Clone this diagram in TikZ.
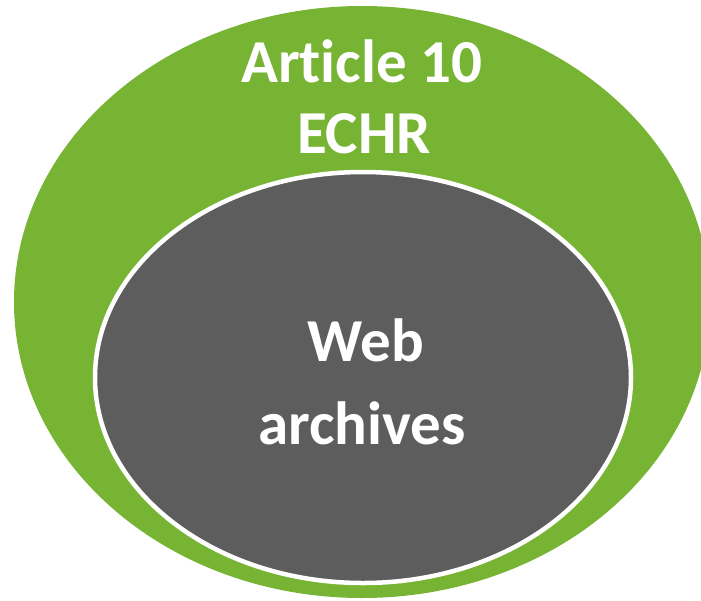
\documentclass[tikz,border=0pt]{standalone}
\usepackage{fontspec}
\setmainfont[Ligatures=NoCommon]{Carlito}
\usetikzlibrary{shapes.geometric}
\definecolor{leafgreen}{HTML}{78B434}
\definecolor{slategray}{HTML}{5D5D5D}
\tikzset{
  blob/.style={ellipse, inner sep=0pt, outer sep=0pt},
  label/.style={text=white, font=\fontsize{61}{72}\selectfont\bfseries, inner sep=0pt, anchor=base}
}
\begin{document}
\begin{tikzpicture}[x=1pt,y=-1pt]
  \useasboundingbox (0,0) rectangle (701,600);
  % outer set
  \node[blob, fill=leafgreen, minimum width=696pt, minimum height=592pt] (outer) at (362,302) {};
  % inner set
  \node[blob, fill=slategray, draw=white, line width=4.5pt, minimum width=536pt, minimum height=411pt] (inner) at (363,377.5) {};
  % labels (kern keeps t and i as separate glyphs)
  \node[label] (art) at (362,82) {Art\kern0pt icle 10};
  \node[label] (echr) at (364,153) {ECHR};
  \node[label] (web) at (366,361) {Web};
  \node[label] (arch) at (362,444) {archives};
\end{tikzpicture}
\end{document}
